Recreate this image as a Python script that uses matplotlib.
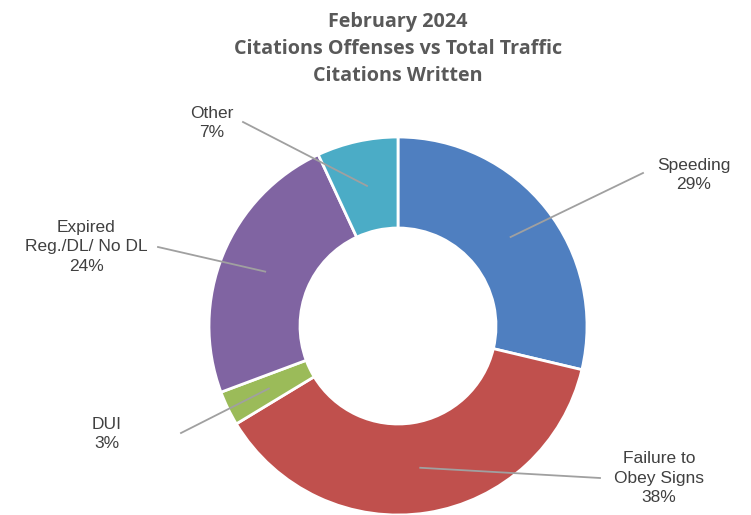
import numpy as np
import matplotlib.pyplot as plt

# Datos del gráfico (porcentajes)
categorias = ['Speeding', 'Failure to\nObey Signs', 'DUI', 'Expired\nReg./DL/ No DL', 'Other']
porcentajes = [29, 38, 3, 24, 7]
colores = ['#4F7FC0', '#C0504D', '#9BBB59', '#8064A2', '#4BACC6']

titulo = 'February 2024\nCitations Offenses vs Total Traffic\nCitations Written'

# Posiciones de etiquetas y fin de las líneas guía (en píxeles, y hacia abajo)
pos_texto = [(694, 175), (659, 478), (107, 434), (86, 247), (212, 123)]
fin_linea = [(643, 173), (600, 478), (181, 433), (158, 247), (243, 122)]

W, H = 751, 515
centro = (398, H - 326)
radio = 189
ancho_anillo = 91

fig = plt.figure(figsize=(W / 100, H / 100), dpi=100)
ax = fig.add_axes([0, 0, 1, 1])

wedges, _ = ax.pie(porcentajes, colors=colores, startangle=90, counterclock=False,
                   center=centro, radius=radio,
                   wedgeprops=dict(width=ancho_anillo, edgecolor='white', linewidth=2))

# pie() fija sus propios límites, así que se ajustan después
ax.set_xlim(0, W)
ax.set_ylim(0, H)
ax.set_aspect('equal')
ax.axis('off')

# Etiquetas con líneas guía desde el centro del anillo
for w, cat, val, pt, fl in zip(wedges, categorias, porcentajes, pos_texto, fin_linea):
    ang = np.deg2rad((w.theta1 + w.theta2) / 2)
    r = radio - ancho_anillo / 2
    x0 = centro[0] + r * np.cos(ang)
    y0 = centro[1] + r * np.sin(ang)
    ax.plot([x0, fl[0]], [y0, H - fl[1]], color='#A0A0A0', lw=1.3, zorder=5)
    ax.text(pt[0], H - pt[1], f'{cat}\n{val}%', ha='center', va='center',
            fontsize=12.5, family='Liberation Sans', color='#404040', linespacing=1.38)

ax.text(398, H - 49, titulo, ha='center', va='center', fontsize=14.2, fontweight='bold',
        family='Open Sans', color='#595959', linespacing=1.48)

fig.savefig('out.png', dpi=100)
